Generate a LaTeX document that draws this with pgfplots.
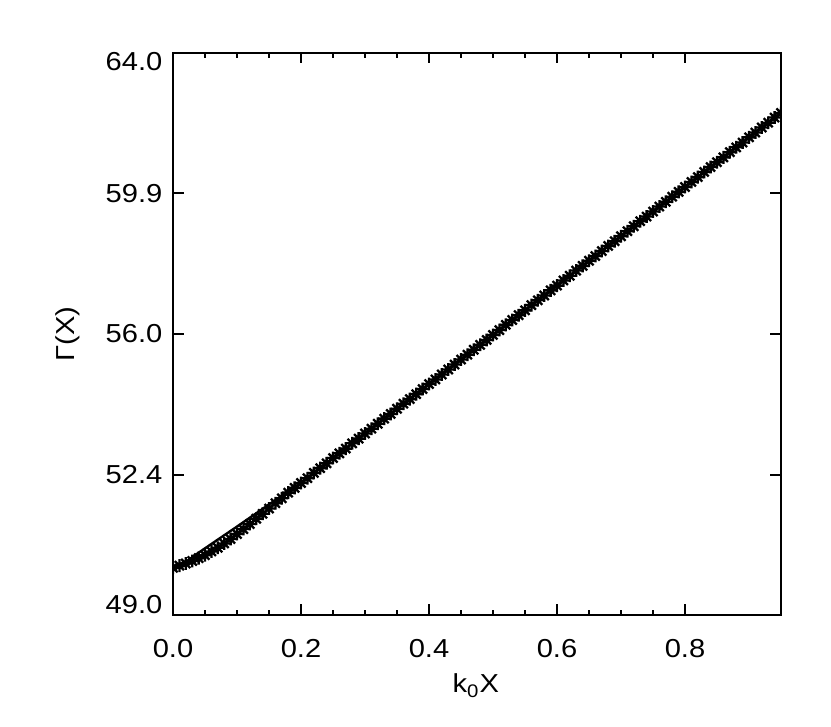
\documentclass[border=0pt]{standalone}
\usepackage{fontspec}
\setmainfont{Liberation Sans}[FakeStretch=1.12]
\usepackage{pgfplots}
\pgfplotsset{compat=1.18}

% IDL-style asterisk: a plus and a cross on top of each other
\pgfdeclareplotmark{idlstar}{%
  \pgfpathmoveto{\pgfqpoint{-\pgfplotmarksize}{0pt}}%
  \pgfpathlineto{\pgfqpoint{\pgfplotmarksize}{0pt}}%
  \pgfpathmoveto{\pgfqpoint{0pt}{-\pgfplotmarksize}}%
  \pgfpathlineto{\pgfqpoint{0pt}{\pgfplotmarksize}}%
  \pgfpathmoveto{\pgfqpoint{-0.707\pgfplotmarksize}{-0.707\pgfplotmarksize}}%
  \pgfpathlineto{\pgfqpoint{0.707\pgfplotmarksize}{0.707\pgfplotmarksize}}%
  \pgfpathmoveto{\pgfqpoint{-0.707\pgfplotmarksize}{0.707\pgfplotmarksize}}%
  \pgfpathlineto{\pgfqpoint{0.707\pgfplotmarksize}{-0.707\pgfplotmarksize}}%
  \pgfusepathqstroke}

\pgfplotstableread{
x     y
0.00  50.11
0.01  50.16
0.02  50.21
0.03  50.27
0.04  50.34
0.05  50.41
0.06  50.50
0.07  50.59
0.08  50.69
0.09  50.80
0.10  50.92
0.11  51.04
0.12  51.16
0.13  51.29
0.14  51.41
0.15  51.54
0.16  51.67
0.17  51.79
0.18  51.93
0.19  52.05
0.20  52.17
0.21  52.29
0.22  52.42
0.23  52.54
0.24  52.66
0.25  52.79
0.26  52.91
0.27  53.03
0.28  53.16
0.29  53.28
0.30  53.41
0.31  53.53
0.32  53.66
0.33  53.79
0.34  53.91
0.35  54.04
0.36  54.17
0.37  54.29
0.38  54.42
0.39  54.55
0.40  54.68
0.41  54.80
0.42  54.93
0.43  55.06
0.44  55.19
0.45  55.32
0.46  55.45
0.47  55.58
0.48  55.71
0.49  55.84
0.50  55.97
0.51  56.10
0.52  56.24
0.53  56.37
0.54  56.50
0.55  56.63
0.56  56.77
0.57  56.90
0.58  57.03
0.59  57.17
0.60  57.30
0.61  57.44
0.62  57.57
0.63  57.71
0.64  57.84
0.65  57.98
0.66  58.11
0.67  58.25
0.68  58.39
0.69  58.52
0.70  58.66
0.71  58.80
0.72  58.94
0.73  59.08
0.74  59.21
0.75  59.35
0.76  59.49
0.77  59.63
0.78  59.77
0.79  59.91
0.80  60.05
0.81  60.19
0.82  60.33
0.83  60.48
0.84  60.62
0.85  60.76
0.86  60.90
0.87  61.05
0.88  61.19
0.89  61.33
0.90  61.48
0.91  61.62
0.92  61.77
0.93  61.91
0.94  62.06
0.95  62.20
}\stars

\pgfplotstableread{
x     y
0.00  50.11
0.02  50.25
0.04  50.47
0.10  51.10
0.15  51.64
0.20  52.17
0.30  53.41
0.40  54.68
0.50  55.97
0.60  57.30
0.70  58.66
0.80  60.05
0.90  61.48
0.95  62.20
}\fit

\begin{document}
\begin{tikzpicture}
\begin{axis}[
    scale only axis,
    width=304pt, height=281pt,
    ymode=log,
    xmin=0, xmax=0.95,
    ymin=49, ymax=64,
    xtick={0,0.2,0.4,0.6,0.8},
    xticklabels={0.0,0.2,0.4,0.6,0.8},
    minor x tick num=3,
    ytick={49,52.37,56,59.87,64},
    yticklabels={\raisebox{5pt}[9pt][0pt]{49.0},52.4,56.0,59.9,\raisebox{-4.5pt}[9pt][0pt]{64.0}},
    minor ytick={},
    tick align=inside,
    major tick length=5.3pt,
    minor tick length=2.6pt,
    axis line style={line width=1pt},
    every tick/.style={black, line width=0.9pt},
    tick label style={font=\fontsize{13}{15}\selectfont},
    xticklabel style={yshift=-8.7pt},
    yticklabel style={xshift=-1.8pt},
    label style={font=\fontsize{13}{15}\selectfont},
    xlabel={k\textsubscript{0}X},
    ylabel={Γ(X)},
    xlabel style={at={(rel axis cs:0.498,-0.1388)}, anchor=base},
    ylabel style={at={(rel axis cs:-0.1612,0.5)}, anchor=base},
    clip mode=individual,
    clip marker paths=true,
]
\addplot[black, line width=1.2pt] table {\fit};
\addplot[black, only marks, mark=idlstar, mark size=3.2pt,
         mark options={line width=1.15pt}] table {\stars};
\coordinate (bl) at (rel axis cs:-0.28454,-0.19751);
\coordinate (tr) at (rel axis cs:1.08224,1.09431);
\end{axis}
\path (bl) rectangle (tr);
\end{tikzpicture}
\end{document}
